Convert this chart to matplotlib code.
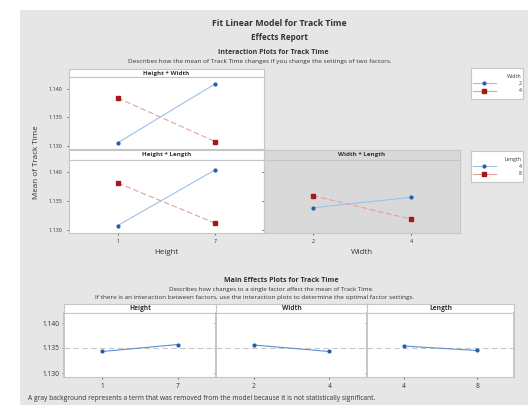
import matplotlib
matplotlib.use('Agg')
import matplotlib.pyplot as plt
from matplotlib.patches import Rectangle
from matplotlib.lines import Line2D

# ---------------- data ----------------
height_levels = ['1', '7']
width_levels = ['2', '4']
length_levels = ['4', '8']

hw_width2 = [1.1305, 1.1409]
hw_width4 = [1.1384, 1.1307]
hl_length4 = [1.1307, 1.1404]
hl_length8 = [1.1381, 1.1311]
wl_length4 = [1.1338, 1.1356]
wl_length8 = [1.1359, 1.1318]

main_height = [1.1343, 1.1357]
main_width = [1.1356, 1.1343]
main_length = [1.1354, 1.1345]
grand_mean = 1.135

yticks = [1.130, 1.135, 1.140]
ytick_labels = ['1.130', '1.135', '1.140']

# ---------------- style ----------------
W, H = 528, 408
plt.rcParams['font.family'] = ['Open Sans', 'DejaVu Sans']
BG = '#e6e6e6'
DARK = '#d9d9d9'
EDGE = '#c6c6c6'
BLUE_L = '#9fc0e6'
BLUE_M = '#1f5fb0'
RED_L = '#e3a0a0'
RED_M = '#a31818'
TXT = '#333333'
MS_B = 2.0
MS_R = 2.5

fig = plt.figure(figsize=(W / 100, H / 100), dpi=100, facecolor='white')


def fx(x):
    return x / W


def fy(y):
    return 1 - y / H


def rect(x0, y0, x1, y1):
    return [x0 / W, 1 - y1 / H, (x1 - x0) / W, (y1 - y0) / H]


fig.patches.append(Rectangle((fx(20), fy(405)), fx(528) - fx(20), fy(10) - fy(405),
                             transform=fig.transFigure, facecolor=BG,
                             edgecolor='none', zorder=-10))


def style_spines(ax, lw=0.8):
    for s in ax.spines.values():
        s.set_color(EDGE)
        s.set_linewidth(lw)


def header(x0, y0, x1, y1, title, face, size=4.5):
    hdr = fig.add_axes(rect(x0, y0, x1, y1))
    hdr.set_facecolor(face)
    hdr.set_xticks([])
    hdr.set_yticks([])
    style_spines(hdr)
    hdr.text(0.5, 0.5, title, ha='center', va='center', fontsize=size,
             fontweight='bold', color=TXT, transform=hdr.transAxes)
    return hdr


def inter_panel(x0, y0h, y0, x1, y1, title, face, levels, s1, s2, ylim, show_y, show_x):
    header(x0, y0h, x1, y0, title, face)
    ax = fig.add_axes(rect(x0, y0, x1, y1))
    ax.set_facecolor(face)
    style_spines(ax)
    xs = list(range(len(levels)))
    ax.plot(xs, s1, color=BLUE_L, lw=0.8, marker='o', ms=MS_B,
            mfc=BLUE_M, mec=BLUE_M, zorder=3)
    ax.plot(xs, s2, color=RED_L, lw=0.8, dashes=(5, 2.5), marker='s', ms=MS_R,
            mfc=RED_M, mec=RED_M, zorder=3)
    ax.set_xlim(-0.5, 1.5)
    ax.set_ylim(*ylim)
    ax.set_yticks(yticks)
    if show_y:
        ax.set_yticklabels(ytick_labels)
    else:
        ax.set_yticklabels([])
        ax.tick_params(axis='y', length=0)
    ax.set_xticks(xs)
    if show_x:
        ax.set_xticklabels(levels)
    else:
        ax.set_xticklabels([])
        ax.tick_params(axis='x', length=0)
    ax.tick_params(axis='both', labelsize=3.9, colors=TXT, length=1.5, width=0.5)
    ax.tick_params(axis='y', pad=3.2)
    ax.tick_params(axis='x', pad=3)
    return ax


# ---------------- titles ----------------
fig.text(fx(279), fy(24), 'Fit Linear Model for Track Time', ha='center', va='center',
         fontsize=6.3, fontweight='bold', color=TXT)
fig.text(fx(279), fy(37), 'Effects Report', ha='center', va='center',
         fontsize=5.8, fontweight='bold', color=TXT)
fig.text(fx(273), fy(53), 'Interaction Plots for Track Time', ha='center', va='center',
         fontsize=5, fontweight='bold', color=TXT)
fig.text(fx(260), fy(62), 'Describes how the mean of Track Time changes if you change the settings of two factors.',
         ha='center', va='center', fontsize=4.6, color=TXT)

# ---------------- interaction plots ----------------
ylim_i = (1.1294, 1.1421)
inter_panel(69, 69, 77, 264, 149, 'Height * Width', 'white', height_levels,
            hw_width2, hw_width4, ylim_i, True, False)
inter_panel(69, 150, 160, 264, 233, 'Height * Length', 'white', height_levels,
            hl_length4, hl_length8, ylim_i, True, True)
inter_panel(264, 150, 160, 460, 233, 'Width * Length', DARK, width_levels,
            wl_length4, wl_length8, ylim_i, False, True)

fig.text(fx(166), fy(253), 'Height', ha='center', va='center', fontsize=5.8, color=TXT)
fig.text(fx(362), fy(253), 'Width', ha='center', va='center', fontsize=5.8, color=TXT)
fig.text(fx(37), fy(162), 'Mean of Track Time', ha='center', va='center',
         rotation=90, fontsize=5.8, color=TXT)


def legend_box(x0, y0, x1, y1, title, labels):
    lax = fig.add_axes(rect(x0, y0, x1, y1))
    lax.set_facecolor('white')
    lax.set_xticks([])
    lax.set_yticks([])
    style_spines(lax)
    handles = [Line2D([], [], color=BLUE_L, lw=0.8, marker='o', ms=MS_B, mfc=BLUE_M, mec=BLUE_M),
               Line2D([], [], color=RED_L, lw=0.8, marker='s', ms=MS_R, mfc=RED_M, mec=RED_M)]
    leg = lax.legend(handles, labels, loc='center', frameon=False, title=title,
                     fontsize=3.8, title_fontsize=3.8, alignment='right',
                     handlelength=4.5, handletextpad=4.2, labelspacing=0.45,
                     borderpad=0.2)
    for t in leg.get_texts():
        t.set_color(TXT)
    leg.get_title().set_color(TXT)


legend_box(471, 68, 523, 99, 'Width', width_levels)
legend_box(471, 151, 523, 182, 'Length', length_levels)

# ---------------- main effects ----------------
fig.text(fx(281), fy(280), 'Main Effects Plots for Track Time', ha='center', va='center',
         fontsize=5, fontweight='bold', color=TXT)
fig.text(fx(271), fy(289), 'Describes how changes to a single factor affect the mean of Track Time.',
         ha='center', va='center', fontsize=4.4, color=TXT)
fig.text(fx(255), fy(298), 'If there is an interaction between factors, use the interaction plots to determine the optimal factor settings.',
         ha='center', va='center', fontsize=4.6, color=TXT)

ylim_m = (1.1292, 1.1420)
main_data = [('Height', height_levels, main_height),
             ('Width', width_levels, main_width),
             ('Length', length_levels, main_length)]
edges = [64, 216, 367, 514]
for i, (name, levels, vals) in enumerate(main_data):
    x0, x1 = edges[i], edges[i + 1]
    header(x0, 304, x1, 313, name, 'white', size=4.8)
    ax = fig.add_axes(rect(x0, 313, x1, 377))
    ax.set_facecolor('white')
    style_spines(ax)
    ax.spines['left'].set_linewidth(1.4)
    ax.spines['right'].set_linewidth(1.4)
    xs = list(range(len(levels)))
    xmax = 1.03 if i == len(main_data) - 1 else 1.0
    ax.axhline(grand_mean, xmax=xmax, color='#c8c8c8', lw=0.8, dashes=(5, 3),
               zorder=1, clip_on=False)
    ax.plot(xs, vals, color='#5d8fd0', lw=0.8, marker='o', ms=MS_B,
            mfc=BLUE_M, mec=BLUE_M, zorder=3)
    ax.set_xlim(-0.5, 1.5)
    ax.set_ylim(*ylim_m)
    ax.set_yticks(yticks)
    ax.set_xticks(xs)
    ax.set_xticklabels(levels)
    if i == 0:
        ax.set_yticklabels(ytick_labels)
    else:
        ax.set_yticklabels([])
        ax.tick_params(axis='y', length=0)
    ax.tick_params(axis='both', labelsize=4.8, colors=TXT, length=1.5, width=0.5)
    ax.tick_params(axis='y', pad=1.8)
    ax.tick_params(axis='x', pad=3)

fig.text(fx(28), fy(398), 'A gray background represents a term that was removed from the model because it is not statistically significant.',
         ha='left', va='center', fontsize=4.8, color=TXT)

fig.savefig('out.png', dpi=100, facecolor='white')
